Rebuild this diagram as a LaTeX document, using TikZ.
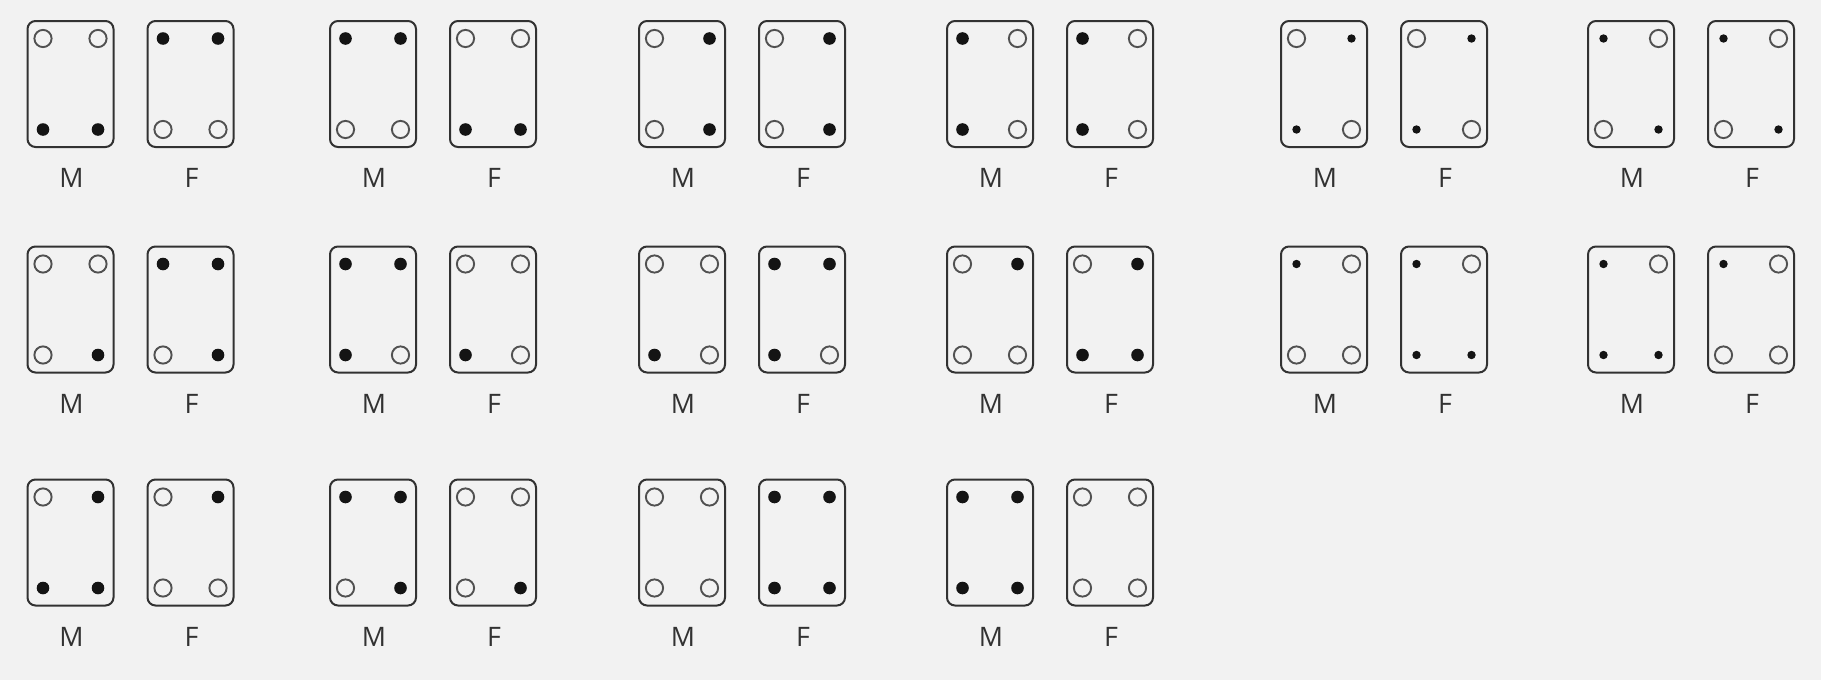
\documentclass[tikz,border=0pt]{standalone}
\usepackage{fontspec}
\setmainfont{Open Sans}
\usepackage{xcolor}
\definecolor{paper}{RGB}{242,242,242}
\definecolor{ink}{RGB}{50,50,50}
\tikzset{
  plate/.style={draw=ink, line width=1pt, rounded corners=4pt},
  ring/.style={draw=ink!85, line width=0.95pt, radius=8.6},
  dot/.style={fill=black!92, radius=6.3},
  dotsm/.style={fill=black!92, radius=4.2},
  tag/.style={text=ink, font=\fontsize{13.4}{16}\selectfont, inner sep=0pt}
}

\begin{document}
\begin{tikzpicture}[x=0.5pt,y=-0.5pt]
        \fill[paper] (0,0) rectangle (1821,680);
        % each pair: left x, top y, then M corners (tl,tr,bl,br), then F corners
        \foreach \gx/\gy/\ma/\mb/\mc/\md/\fa/\fb/\fc/\fd [count=\n] in {
            27.5/21/ring/ring/dot/dot/dot/dot/ring/ring,
            330/21/dot/dot/ring/ring/ring/ring/dot/dot,
            639/21/ring/dot/ring/dot/ring/dot/ring/dot,
            947/21/dot/ring/dot/ring/dot/ring/dot/ring,
            1281/21/ring/dotsm/dotsm/ring/ring/dotsm/dotsm/ring,
            1588/21/dotsm/ring/ring/dotsm/dotsm/ring/ring/dotsm,
            27.5/246.5/ring/ring/ring/dot/dot/dot/ring/dot,
            330/246.5/dot/dot/dot/ring/ring/ring/dot/ring,
            639/246.5/ring/ring/dot/ring/dot/dot/dot/ring,
            947/246.5/ring/dot/ring/ring/ring/dot/dot/dot,
            1281/246.5/dotsm/ring/ring/ring/dotsm/ring/dotsm/dotsm,
            1588/246.5/dotsm/ring/dotsm/dotsm/dotsm/ring/ring/ring,
            27.5/479.5/ring/dot/dot/dot/ring/dot/ring/ring,
            330/479.5/dot/dot/ring/dot/ring/ring/ring/dot,
            639/479.5/ring/ring/ring/ring/dot/dot/dot/dot,
            947/479.5/dot/dot/dot/dot/ring/ring/ring/ring} {
            \foreach \dx/\ta/\tb/\tc/\td/\lab in {0/\ma/\mb/\mc/\md/M, 120/\fa/\fb/\fc/\fd/F} {
                \draw[plate] (\gx+\dx,\gy) rectangle ++(86,126);
                \path[\ta] (\gx+\dx+15.5,\gy+17.5) circle;
                \path[\tb] (\gx+\dx+70.5,\gy+17.5) circle;
                \path[\tc] (\gx+\dx+15.5,\gy+108.5) circle;
                \path[\td] (\gx+\dx+70.5,\gy+108.5) circle;
                \node[tag] (\lab\n) at (\gx+\dx+44,\gy+157) {\lab};
            }
        }
    \end{tikzpicture}
\end{document}
